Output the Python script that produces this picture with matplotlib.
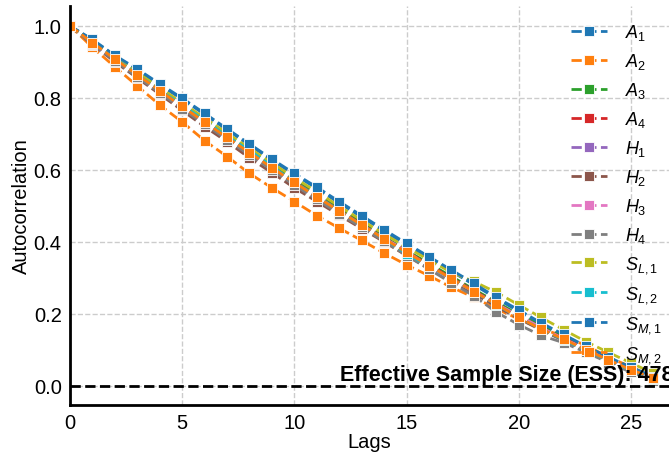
import matplotlib
matplotlib.use("Agg")
import matplotlib.pyplot as plt
import numpy as np

plt.rcParams['font.family'] = ['Liberation Sans', 'DejaVu Sans']
plt.rcParams['mathtext.fontset'] = 'custom'
plt.rcParams['mathtext.rm'] = 'Liberation Sans'
plt.rcParams['mathtext.it'] = 'Liberation Sans:italic'

lags = list(range(0, 27))

A1 = [1, 0.960, 0.916, 0.877, 0.836, 0.796, 0.754, 0.711, 0.669, 0.627, 0.587, 0.548, 0.508, 0.469, 0.430, 0.392, 0.355, 0.318, 0.281, 0.243, 0.207, 0.171, 0.140, 0.108, 0.078, 0.050, 0.024]
A2 = [1, 0.940, 0.886, 0.833, 0.780, 0.733, 0.681, 0.637, 0.590, 0.550, 0.512, 0.473, 0.438, 0.404, 0.369, 0.336, 0.306, 0.274, 0.246, 0.214, 0.186, 0.158, 0.139, 0.112, 0.080, 0.053, 0.025]
A3 = [1, 0.955, 0.912, 0.868, 0.826, 0.783, 0.740, 0.698, 0.655, 0.613, 0.572, 0.532, 0.492, 0.453, 0.414, 0.376, 0.340, 0.304, 0.268, 0.233, 0.198, 0.166, 0.136, 0.106, 0.077, 0.050, 0.024]
A4 = [1, 0.953, 0.909, 0.865, 0.822, 0.779, 0.736, 0.693, 0.651, 0.609, 0.567, 0.528, 0.488, 0.449, 0.411, 0.373, 0.336, 0.300, 0.265, 0.229, 0.194, 0.162, 0.132, 0.103, 0.074, 0.047, 0.022]
H1 = [1, 0.952, 0.907, 0.862, 0.818, 0.775, 0.732, 0.689, 0.647, 0.605, 0.563, 0.523, 0.484, 0.446, 0.408, 0.370, 0.333, 0.297, 0.262, 0.227, 0.192, 0.160, 0.130, 0.100, 0.072, 0.045, 0.020]
H2 = [1, 0.948, 0.900, 0.855, 0.810, 0.765, 0.720, 0.678, 0.633, 0.592, 0.550, 0.512, 0.474, 0.437, 0.400, 0.362, 0.326, 0.290, 0.256, 0.221, 0.187, 0.155, 0.126, 0.097, 0.069, 0.042, 0.018]
H3 = [1, 0.951, 0.906, 0.861, 0.817, 0.773, 0.730, 0.687, 0.645, 0.603, 0.562, 0.522, 0.483, 0.445, 0.410, 0.375, 0.330, 0.296, 0.262, 0.228, 0.195, 0.162, 0.131, 0.102, 0.073, 0.046, 0.020]
H4 = [1, 0.950, 0.903, 0.858, 0.814, 0.770, 0.727, 0.684, 0.641, 0.600, 0.558, 0.518, 0.478, 0.440, 0.402, 0.362, 0.324, 0.286, 0.250, 0.205, 0.170, 0.140, 0.120, 0.093, 0.065, 0.038, 0.015]
SL1 = [1, 0.956, 0.913, 0.870, 0.828, 0.786, 0.744, 0.702, 0.660, 0.619, 0.578, 0.539, 0.499, 0.460, 0.422, 0.385, 0.350, 0.315, 0.290, 0.260, 0.225, 0.190, 0.156, 0.123, 0.093, 0.064, 0.035]
SL2 = [1, 0.954, 0.910, 0.865, 0.821, 0.780, 0.737, 0.693, 0.654, 0.610, 0.566, 0.527, 0.487, 0.447, 0.410, 0.367, 0.332, 0.298, 0.262, 0.226, 0.190, 0.158, 0.128, 0.099, 0.071, 0.044, 0.020]
SM1 = [1, 0.962, 0.918, 0.880, 0.839, 0.799, 0.757, 0.714, 0.672, 0.630, 0.590, 0.552, 0.512, 0.473, 0.434, 0.396, 0.359, 0.322, 0.285, 0.246, 0.211, 0.175, 0.143, 0.110, 0.080, 0.052, 0.026]
SM2 = [1, 0.953, 0.908, 0.864, 0.820, 0.776, 0.733, 0.690, 0.648, 0.606, 0.565, 0.525, 0.486, 0.447, 0.409, 0.371, 0.334, 0.298, 0.262, 0.227, 0.190, 0.158, 0.130, 0.100, 0.072, 0.045, 0.022]

series = [A1, A2, A3, A4, H1, H2, H3, H4, SL1, SL2, SM1, SM2]
labels = [r'$A_1$', r'$A_2$', r'$A_3$', r'$A_4$', r'$H_1$', r'$H_2$', r'$H_3$', r'$H_4$',
          r'$S_{L,1}$', r'$S_{L,2}$', r'$S_{M,1}$', r'$S_{M,2}$']
ess = 478

colors = plt.rcParams['axes.prop_cycle'].by_key()['color']

fig = plt.figure(figsize=(6.69, 4.56), dpi=100)
ax = fig.add_axes([70/669, 50/456, 599/669, 399/456])

for i, (vals, lab) in enumerate(zip(series, labels)):
    ax.plot(lags, vals, linestyle='--', marker='s', color=colors[i % 10],
            markersize=7, markeredgecolor='white', markeredgewidth=0.6,
            linewidth=2, label=lab)

ax.axhline(0, color='black', linestyle='--', linewidth=2)
ax.text(12.03, 0.017, f'Effective Sample Size (ESS): {ess}', fontsize=15.5,
        fontweight='bold', ha='left', va='baseline')

ax.set_xlim(0, 26.7)
ax.set_ylim(-0.053, 1.055)
ax.set_xticks([0, 5, 10, 15, 20, 25])
ax.set_yticks([0.0, 0.2, 0.4, 0.6, 0.8, 1.0])
ax.grid(True, linestyle='--', color='#cccccc', linewidth=1)
ax.set_axisbelow(True)
for s in ['top', 'right']:
    ax.spines[s].set_visible(False)
for s in ['left', 'bottom']:
    ax.spines[s].set_linewidth(2)
    ax.spines[s].set_color('black')
ax.tick_params(length=0, labelsize=14.5, pad=6)
ax.set_xlabel('Lags', fontsize=14.5, labelpad=0)
ax.set_ylabel('Autocorrelation', fontsize=14.5, labelpad=2)

ax.legend(loc='upper left', frameon=False, fontsize=13, handlelength=2.0,
          handletextpad=1.0, labelspacing=0.5, borderpad=0, borderaxespad=0,
          bbox_to_anchor=(571/669, 1 - 23/456), bbox_transform=fig.transFigure)

fig.savefig('out.png', dpi=100)
